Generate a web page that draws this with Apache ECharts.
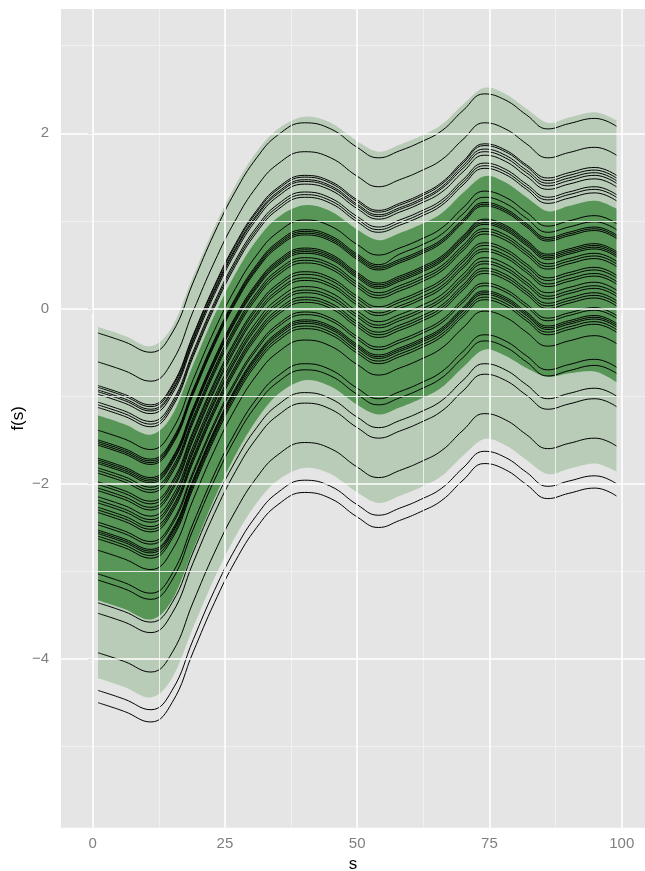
<!DOCTYPE html>
<html>
<head>
<meta charset="utf-8">
<script src="https://cdn.jsdelivr.net/npm/echarts@6/dist/echarts.min.js"></script>
<style>
html,body{margin:0;padding:0;background:#fff;}
#c{width:645px;height:871px;}
</style>
</head>
<body>
<div id="c"></div>
<script>
// x positions (s) at which every curve was read
const S = [1,6,11,15,19,23,27,31,35,40,45,50,54,58,62,66,70,74,78,82,86,90,95,99];

// tick values
const xTicks = [0,25,50,75,100];
const xMinor = [12.5,37.5,62.5,87.5];
const yTicks = [-4,-2,0,2];
const yMinor = [-5,-3,-1,1,3];

// envelopes
const outerUpper = [-0.21,-0.31,-0.43,-0.21,0.37,0.93,1.41,1.79,2.05,2.19,2.12,1.91,1.79,1.87,1.97,2.10,2.33,2.52,2.45,2.28,2.12,2.18,2.24,2.15];
const outerLower = [-4.22,-4.32,-4.44,-4.22,-3.64,-3.08,-2.60,-2.22,-1.96,-1.82,-1.89,-2.10,-2.22,-2.14,-2.04,-1.91,-1.68,-1.49,-1.56,-1.73,-1.89,-1.83,-1.77,-1.86];
const innerUpper = [-1.22,-1.32,-1.44,-1.22,-0.64,-0.08,0.40,0.78,1.04,1.18,1.11,0.90,0.78,0.86,0.96,1.09,1.32,1.51,1.44,1.27,1.11,1.17,1.23,1.14];
const innerLower = [-3.33,-3.43,-3.55,-3.33,-2.75,-2.17,-1.67,-1.27,-0.98,-0.82,-0.89,-1.10,-1.21,-1.13,-1.03,-0.90,-0.67,-0.47,-0.54,-0.68,-0.78,-0.74,-0.72,-0.84];

// curves f(s)
const f01 = [-0.28,-0.38,-0.50,-0.28,0.30,0.86,1.34,1.72,1.98,2.12,2.05,1.84,1.72,1.80,1.90,2.03,2.26,2.45,2.38,2.21,2.05,2.11,2.17,2.08];
const f02 = [-0.61,-0.71,-0.83,-0.61,-0.03,0.53,1.01,1.39,1.65,1.79,1.72,1.51,1.39,1.47,1.57,1.70,1.93,2.12,2.05,1.88,1.72,1.78,1.84,1.75];
const f03 = [-0.88,-0.98,-1.10,-0.88,-0.30,0.26,0.74,1.12,1.38,1.52,1.45,1.24,1.12,1.20,1.30,1.44,1.68,1.88,1.81,1.64,1.49,1.55,1.61,1.52];
const f04 = [-0.90,-1.00,-1.12,-0.90,-0.32,0.24,0.72,1.10,1.36,1.50,1.43,1.22,1.10,1.18,1.28,1.42,1.66,1.86,1.79,1.62,1.46,1.52,1.58,1.49];
const f05 = [-0.93,-1.03,-1.15,-0.93,-0.35,0.21,0.69,1.07,1.33,1.47,1.40,1.19,1.07,1.15,1.25,1.39,1.63,1.82,1.75,1.58,1.43,1.49,1.55,1.46];
const f06 = [-0.95,-1.05,-1.17,-0.95,-0.37,0.19,0.67,1.05,1.31,1.45,1.38,1.17,1.05,1.13,1.23,1.37,1.60,1.79,1.72,1.55,1.40,1.46,1.52,1.43];
const f07 = [-0.98,-1.08,-1.20,-0.98,-0.40,0.16,0.64,1.02,1.28,1.42,1.35,1.14,1.02,1.10,1.20,1.33,1.56,1.75,1.68,1.51,1.36,1.42,1.48,1.39];
const f08 = [-1.07,-1.17,-1.29,-1.07,-0.49,0.07,0.55,0.93,1.19,1.33,1.26,1.05,0.93,1.01,1.11,1.24,1.47,1.66,1.59,1.42,1.27,1.33,1.39,1.30];
const f09 = [-1.10,-1.20,-1.32,-1.10,-0.52,0.04,0.52,0.90,1.16,1.30,1.23,1.02,0.90,0.98,1.08,1.21,1.44,1.63,1.56,1.39,1.24,1.30,1.36,1.27];
const f10 = [-1.13,-1.23,-1.35,-1.13,-0.55,0.01,0.49,0.87,1.13,1.27,1.20,0.99,0.87,0.95,1.05,1.18,1.41,1.60,1.53,1.36,1.20,1.26,1.32,1.23];
const f11 = [-1.39,-1.49,-1.61,-1.39,-0.81,-0.25,0.23,0.61,0.87,1.01,0.94,0.73,0.61,0.69,0.79,0.92,1.15,1.34,1.27,1.10,0.94,1.00,1.06,0.97];
const f12 = [-1.50,-1.60,-1.72,-1.50,-0.92,-0.36,0.12,0.50,0.76,0.90,0.83,0.62,0.50,0.62,0.72,0.85,1.08,1.27,1.20,1.03,0.87,0.93,0.99,0.90];
const f13 = [-1.52,-1.62,-1.74,-1.52,-0.94,-0.38,0.10,0.48,0.74,0.88,0.81,0.60,0.48,0.56,0.66,0.79,1.02,1.21,1.14,0.97,0.81,0.87,0.93,0.84];
const f14 = [-1.54,-1.64,-1.76,-1.54,-0.96,-0.40,0.08,0.46,0.72,0.86,0.79,0.58,0.46,0.54,0.64,0.77,1.00,1.19,1.12,0.95,0.79,0.85,0.91,0.82];
const f15 = [-1.56,-1.66,-1.78,-1.56,-0.98,-0.42,0.06,0.44,0.70,0.84,0.77,0.56,0.44,0.52,0.62,0.75,0.98,1.17,1.10,0.93,0.77,0.83,0.89,0.80];
const f16 = [-1.71,-1.81,-1.93,-1.71,-1.13,-0.57,-0.09,0.29,0.55,0.69,0.62,0.41,0.29,0.37,0.47,0.60,0.83,1.02,0.95,0.78,0.62,0.68,0.74,0.65];
const f17 = [-1.73,-1.83,-1.95,-1.73,-1.15,-0.59,-0.11,0.27,0.53,0.67,0.60,0.39,0.27,0.35,0.45,0.58,0.81,1.00,0.93,0.76,0.60,0.66,0.72,0.63];
const f18 = [-1.75,-1.85,-1.97,-1.75,-1.17,-0.61,-0.13,0.25,0.51,0.65,0.58,0.37,0.25,0.33,0.43,0.56,0.79,0.98,0.91,0.74,0.58,0.64,0.70,0.61];
const f19 = [-1.77,-1.87,-1.99,-1.77,-1.19,-0.63,-0.15,0.23,0.49,0.63,0.56,0.35,0.23,0.31,0.41,0.54,0.77,0.96,0.89,0.72,0.56,0.62,0.68,0.59];
const f20 = [-1.82,-1.92,-2.04,-1.82,-1.24,-0.68,-0.20,0.18,0.44,0.58,0.51,0.30,0.18,0.26,0.36,0.49,0.72,0.91,0.84,0.67,0.51,0.57,0.63,0.54];
const f21 = [-1.85,-1.95,-2.07,-1.85,-1.27,-0.71,-0.23,0.15,0.41,0.55,0.48,0.27,0.15,0.23,0.33,0.46,0.69,0.88,0.81,0.64,0.48,0.54,0.60,0.51];
const f22 = [-1.88,-1.98,-2.10,-1.88,-1.30,-0.74,-0.26,0.12,0.38,0.52,0.45,0.24,0.12,0.20,0.30,0.43,0.66,0.85,0.78,0.61,0.45,0.51,0.57,0.48];
const f23 = [-1.98,-2.08,-2.20,-1.98,-1.40,-0.84,-0.36,0.02,0.28,0.42,0.35,0.14,0.02,0.10,0.20,0.33,0.56,0.75,0.68,0.51,0.35,0.41,0.47,0.38];
const f24 = [-2.01,-2.11,-2.23,-2.01,-1.43,-0.87,-0.39,-0.01,0.25,0.39,0.32,0.11,-0.01,0.07,0.17,0.30,0.53,0.72,0.65,0.48,0.32,0.38,0.44,0.35];
const f25 = [-2.05,-2.15,-2.27,-2.05,-1.47,-0.91,-0.43,-0.05,0.21,0.35,0.28,0.07,-0.05,0.03,0.13,0.26,0.49,0.68,0.61,0.44,0.28,0.34,0.40,0.31];
const f26 = [-2.08,-2.18,-2.30,-2.08,-1.50,-0.94,-0.46,-0.08,0.18,0.32,0.25,0.04,-0.08,0.00,0.10,0.23,0.46,0.65,0.58,0.41,0.25,0.31,0.37,0.28];
const f27 = [-2.15,-2.25,-2.37,-2.15,-1.57,-1.01,-0.53,-0.15,0.11,0.25,0.18,-0.03,-0.15,-0.07,0.03,0.16,0.39,0.58,0.51,0.34,0.18,0.24,0.30,0.21];
const f28 = [-2.19,-2.29,-2.41,-2.19,-1.61,-1.05,-0.57,-0.19,0.07,0.21,0.14,-0.07,-0.19,-0.11,-0.01,0.12,0.35,0.54,0.47,0.30,0.14,0.20,0.26,0.17];
const f29 = [-2.22,-2.32,-2.44,-2.22,-1.64,-1.08,-0.60,-0.22,0.04,0.18,0.11,-0.10,-0.22,-0.14,-0.04,0.09,0.32,0.51,0.44,0.27,0.11,0.17,0.23,0.14];
const f30 = [-2.27,-2.37,-2.49,-2.27,-1.69,-1.13,-0.65,-0.27,-0.01,0.13,0.06,-0.15,-0.27,-0.19,-0.09,0.04,0.27,0.46,0.39,0.22,0.06,0.12,0.18,0.09];
const f31 = [-2.30,-2.40,-2.52,-2.30,-1.72,-1.16,-0.68,-0.30,-0.04,0.10,0.03,-0.18,-0.30,-0.22,-0.12,0.01,0.24,0.43,0.36,0.19,0.03,0.09,0.15,0.06];
const f32 = [-2.33,-2.43,-2.55,-2.33,-1.75,-1.19,-0.71,-0.33,-0.07,0.07,0.00,-0.21,-0.33,-0.25,-0.15,-0.02,0.21,0.40,0.33,0.16,0.00,0.06,0.12,0.03];
const f33 = [-2.44,-2.54,-2.66,-2.44,-1.86,-1.30,-0.82,-0.44,-0.18,-0.04,-0.11,-0.32,-0.44,-0.36,-0.26,-0.13,0.10,0.29,0.22,0.05,-0.11,-0.05,0.01,-0.08];
const f34 = [-2.47,-2.57,-2.69,-2.47,-1.89,-1.33,-0.85,-0.47,-0.21,-0.07,-0.14,-0.35,-0.47,-0.39,-0.29,-0.16,0.07,0.26,0.19,0.02,-0.14,-0.08,-0.02,-0.11];
const f35 = [-2.53,-2.63,-2.75,-2.53,-1.95,-1.39,-0.91,-0.53,-0.27,-0.13,-0.20,-0.41,-0.53,-0.45,-0.35,-0.22,0.01,0.20,0.13,-0.04,-0.20,-0.14,-0.08,-0.17];
const f36 = [-2.55,-2.65,-2.77,-2.55,-1.97,-1.41,-0.93,-0.55,-0.29,-0.15,-0.22,-0.43,-0.55,-0.47,-0.37,-0.24,-0.01,0.18,0.11,-0.06,-0.22,-0.16,-0.10,-0.19];
const f37 = [-2.57,-2.67,-2.79,-2.57,-1.99,-1.43,-0.95,-0.57,-0.31,-0.17,-0.24,-0.45,-0.57,-0.49,-0.39,-0.26,-0.03,0.16,0.09,-0.08,-0.24,-0.18,-0.12,-0.21];
const f38 = [-2.60,-2.70,-2.82,-2.60,-2.02,-1.46,-0.98,-0.60,-0.34,-0.20,-0.27,-0.48,-0.60,-0.52,-0.42,-0.29,-0.06,0.13,0.06,-0.11,-0.27,-0.21,-0.15,-0.24];
const f39 = [-2.63,-2.73,-2.85,-2.63,-2.05,-1.49,-1.01,-0.63,-0.37,-0.23,-0.30,-0.51,-0.63,-0.55,-0.45,-0.32,-0.09,0.10,0.03,-0.14,-0.30,-0.24,-0.18,-0.27];
const f40 = [-2.76,-2.86,-2.98,-2.76,-2.18,-1.62,-1.14,-0.76,-0.50,-0.36,-0.43,-0.64,-0.76,-0.68,-0.58,-0.45,-0.22,-0.03,-0.10,-0.27,-0.43,-0.37,-0.31,-0.40];
const f41 = [-3.03,-3.13,-3.25,-3.03,-2.45,-1.89,-1.41,-1.03,-0.77,-0.63,-0.70,-0.91,-1.03,-0.95,-0.85,-0.72,-0.49,-0.30,-0.37,-0.54,-0.70,-0.64,-0.58,-0.67];
const f42 = [-3.10,-3.20,-3.32,-3.10,-2.52,-1.96,-1.48,-1.10,-0.84,-0.70,-0.77,-0.98,-1.10,-1.02,-0.92,-0.79,-0.56,-0.37,-0.44,-0.61,-0.77,-0.71,-0.65,-0.74];
const f43 = [-3.36,-3.46,-3.58,-3.36,-2.78,-2.22,-1.74,-1.36,-1.10,-0.96,-1.03,-1.24,-1.36,-1.28,-1.18,-1.05,-0.82,-0.63,-0.70,-0.87,-1.03,-0.97,-0.91,-1.00];
const f44 = [-3.48,-3.58,-3.70,-3.48,-2.90,-2.34,-1.86,-1.48,-1.22,-1.08,-1.15,-1.36,-1.48,-1.40,-1.30,-1.17,-0.94,-0.75,-0.82,-0.99,-1.15,-1.09,-1.03,-1.12];
const f45 = [-3.93,-4.03,-4.15,-3.93,-3.35,-2.79,-2.31,-1.93,-1.67,-1.53,-1.60,-1.81,-1.93,-1.85,-1.75,-1.62,-1.39,-1.20,-1.27,-1.44,-1.60,-1.54,-1.48,-1.57];
const f46 = [-4.36,-4.46,-4.58,-4.36,-3.78,-3.22,-2.74,-2.36,-2.10,-1.96,-2.03,-2.24,-2.36,-2.28,-2.18,-2.05,-1.82,-1.63,-1.70,-1.87,-2.03,-1.97,-1.91,-2.00];
const f47 = [-4.50,-4.60,-4.72,-4.50,-3.92,-3.36,-2.88,-2.50,-2.24,-2.10,-2.17,-2.38,-2.50,-2.42,-2.32,-2.19,-1.96,-1.77,-1.84,-2.01,-2.17,-2.11,-2.05,-2.14];

const curves = [f01,f02,f03,f04,f05,f06,f07,f08,f09,f10,f11,f12,f13,f14,f15,f16,f17,f18,f19,f20,
  f21,f22,f23,f24,f25,f26,f27,f28,f29,f30,f31,f32,f33,f34,f35,f36,f37,f38,f39,f40,f41,f42,f43,f44,f45,f46,f47];

const FONT = '"Liberation Sans", Arial, Helvetica, sans-serif';
const pairs = ys => S.map((s, i) => [s, ys[i]]);
const fmt = v => (v < 0 ? '\u2212' + Math.abs(v) : String(v));
const SMOOTH = 0.45;

// Catmull-Rom in pixel space, for the band outlines
function spline(pts, steps) {
  const out = [];
  const n = pts.length;
  for (let i = 0; i < n - 1; i++) {
    const p0 = pts[Math.max(0, i - 1)], p1 = pts[i], p2 = pts[i + 1], p3 = pts[Math.min(n - 1, i + 2)];
    for (let k = 0; k < steps; k++) {
      const t = k / steps, t2 = t * t, t3 = t2 * t;
      const f = (a, b, c, d) => 0.5 * ((2 * b) + (-a + c) * t + (2 * a - 5 * b + 4 * c - d) * t2 + (-a + 3 * b - 3 * c + d) * t3);
      out.push([f(p0[0], p1[0], p2[0], p3[0]), f(p0[1], p1[1], p2[1], p3[1])]);
    }
  }
  out.push(pts[n - 1]);
  return out;
}

function bandSeries(lower, upper, color) {
  return {
    type: 'custom', z: 2, silent: true, clip: true,
    data: S.map((s, i) => [s, lower[i], upper[i]]),
    encode: { x: 0, y: [1, 2] },
    renderItem: function (params, api) {
      if (params.dataIndexInside !== 0) return null;
      const up = spline(S.map((s, i) => api.coord([s, upper[i]])), 10);
      const lo = spline(S.map((s, i) => api.coord([s, lower[i]])), 10);
      return {
        type: 'polygon',
        shape: { points: up.concat(lo.reverse()) },
        style: { fill: color, stroke: null }
      };
    }
  };
}

const series = [];

// grid lines (drawn under everything)
series.push({
  type: 'line', data: [], z: 1, silent: true,
  markLine: {
    silent: true, symbol: 'none', animation: false,
    label: { show: false },
    lineStyle: { color: '#f2f2f2', width: 0.9, type: 'solid' },
    data: yMinor.map(v => ({ yAxis: v })).concat(xMinor.map(v => ({ xAxis: v })))
  }
});
series.push({
  type: 'line', data: [], z: 1, silent: true,
  markLine: {
    silent: true, symbol: 'none', animation: false,
    label: { show: false },
    lineStyle: { color: '#ffffff', width: 1.6, type: 'solid' },
    data: yTicks.map(v => ({ yAxis: v })).concat(xTicks.map(v => ({ xAxis: v })))
  }
});

series.push(bandSeries(outerLower, outerUpper, 'rgba(117,167,117,0.40)'));
series.push(bandSeries(innerLower, innerUpper, 'rgba(66,138,66,0.82)'));

curves.forEach(c => {
  series.push({
    type: 'line', data: pairs(c), smooth: SMOOTH, symbol: 'none', z: 3, silent: true,
    lineStyle: { color: '#000000', width: 1 }
  });
});

const chart = echarts.init(document.getElementById('c'), null, { renderer: 'canvas' });
chart.setOption({
  animation: false,
  backgroundColor: '#ffffff',
  grid: {
    left: 61, top: 9, right: 0, bottom: 43.3,
    show: true, backgroundColor: '#e5e5e5', borderWidth: 0,
    containLabel: false, outerBoundsMode: 'none'
  },
  xAxis: {
    type: 'value', min: -5.99, max: 104.4,
    name: 's', nameLocation: 'middle', nameGap: 28, nameMoveOverlap: false,
    nameTextStyle: { color: '#000', fontSize: 17, fontFamily: FONT },
    axisLine: { show: false },
    axisTick: { show: true, length: 5, customValues: xTicks, lineStyle: { color: '#7f7f7f', width: 1 } },
    axisLabel: { customValues: xTicks, color: '#7f7f7f', fontSize: 15, fontFamily: FONT, margin: 9, formatter: fmt },
    splitLine: { show: false }
  },
  yAxis: {
    type: 'value', min: -5.927, max: 3.419,
    name: 'f(s)', nameLocation: 'middle', nameGap: 34, nameRotate: 90, nameMoveOverlap: false,
    nameTextStyle: { color: '#000', fontSize: 17, fontFamily: FONT },
    axisLine: { show: false },
    axisTick: { show: true, length: 5, customValues: yTicks, lineStyle: { color: '#7f7f7f', width: 1 } },
    axisLabel: { customValues: yTicks, color: '#7f7f7f', fontSize: 15, fontFamily: FONT, margin: 12, formatter: fmt },
    splitLine: { show: false }
  },
  series: series
});
</script>
</body>
</html>
